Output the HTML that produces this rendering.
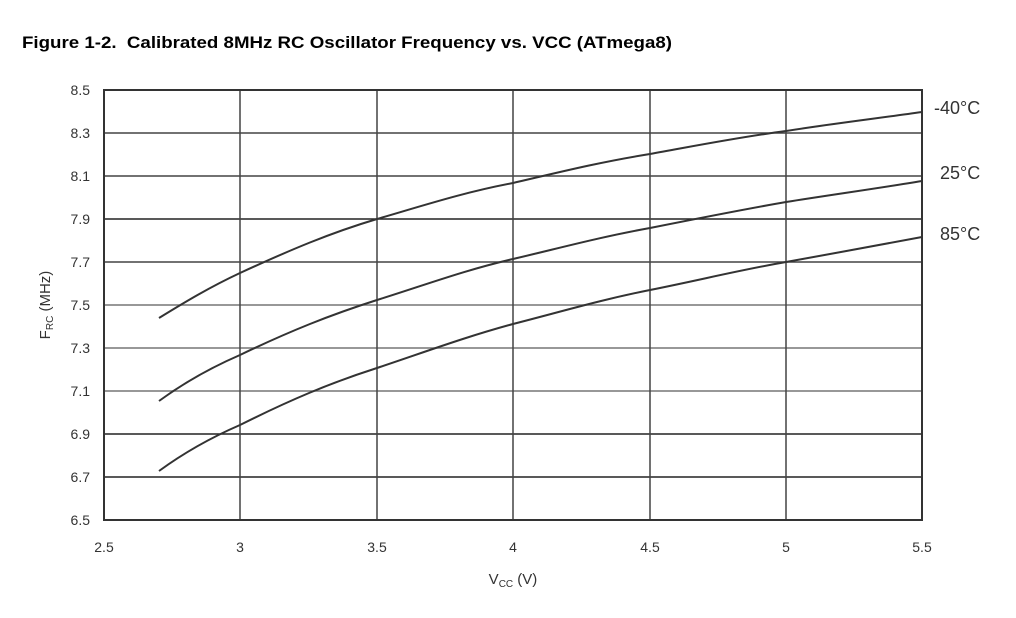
<!DOCTYPE html>
<html><head><meta charset="utf-8"><style>
body{margin:0;background:#fff;width:1016px;height:618px;overflow:hidden}
svg{display:block}
text{font-family:"Liberation Sans",Arial,sans-serif;fill:#333}
</style></head><body>
<svg width="1016" height="618" viewBox="0 0 1016 618">
<text x="22" y="48" font-size="16.5" font-weight="bold" style="fill:#000;white-space:pre" textLength="650" lengthAdjust="spacingAndGlyphs">Figure 1-2.  Calibrated 8MHz RC Oscillator Frequency vs. VCC (ATmega8)</text>
<g stroke="#444" stroke-width="1.5">
<line x1="104" y1="133" x2="922" y2="133"/>
<line x1="104" y1="176" x2="922" y2="176"/>
<line x1="104" y1="219" x2="922" y2="219" stroke="#222"/>
<line x1="104" y1="262" x2="922" y2="262"/>
<line x1="104" y1="305" x2="922" y2="305" stroke="#777"/>
<line x1="104" y1="348" x2="922" y2="348" stroke="#777"/>
<line x1="104" y1="391" x2="922" y2="391" stroke="#777"/>
<line x1="104" y1="434" x2="922" y2="434" stroke="#222"/>
<line x1="104" y1="477" x2="922" y2="477" stroke="#222"/>
<line x1="240" y1="90" x2="240" y2="520"/>
<line x1="377" y1="90" x2="377" y2="520"/>
<line x1="513" y1="90" x2="513" y2="520"/>
<line x1="650" y1="90" x2="650" y2="520"/>
<line x1="786" y1="90" x2="786" y2="520"/>
</g>
<rect x="104" y="90" width="818" height="430" fill="none" stroke="#333" stroke-width="2"/>
<g fill="none" stroke="#333" stroke-width="2">
<path d="M159,318 C185,302 210,287 240,273 C290,250 330,233 377,219 C425,205 465,192 513,183 C560,172 600,162 650,154 C700,145 740,137 786,131 C830,124 880,118 922,112"/>
<path d="M159,401 C185,382 210,368 240,355 C290,331 330,315 377,300 C425,285 465,270 513,259 C560,248 600,237 650,228 C700,218 740,210 786,202 C830,195 880,188 922,181"/>
<path d="M159,471 C185,452 210,438 240,425 C290,400 330,383 377,368 C425,352 465,337 513,324 C560,312 600,300 650,290 C700,280 740,270 786,262 C830,254 880,245 922,237"/>
</g>
<g font-size="14" text-anchor="end">
<text x="90" y="95">8.5</text><text x="90" y="138">8.3</text><text x="90" y="181">8.1</text>
<text x="90" y="224">7.9</text><text x="90" y="267">7.7</text><text x="90" y="310">7.5</text>
<text x="90" y="353">7.3</text><text x="90" y="396">7.1</text><text x="90" y="439">6.9</text>
<text x="90" y="482">6.7</text><text x="90" y="525">6.5</text>
</g>
<g font-size="14" text-anchor="middle">
<text x="104" y="552">2.5</text><text x="240" y="552">3</text><text x="377" y="552">3.5</text>
<text x="513" y="552">4</text><text x="650" y="552">4.5</text><text x="786" y="552">5</text><text x="922" y="552">5.5</text>
</g>
<text x="513" y="584" font-size="15" text-anchor="middle">V<tspan font-size="10" dy="3">CC</tspan><tspan dy="-3"> (V)</tspan></text>
<text transform="translate(50,305) rotate(-90)" font-size="15" text-anchor="middle">F<tspan font-size="10" dy="3">RC</tspan><tspan dy="-3"> (MHz)</tspan></text>
<g font-size="18">
<text x="934" y="114">-40°C</text>
<text x="940" y="179">25°C</text>
<text x="940" y="240">85°C</text>
</g>
</svg>
</body></html>
